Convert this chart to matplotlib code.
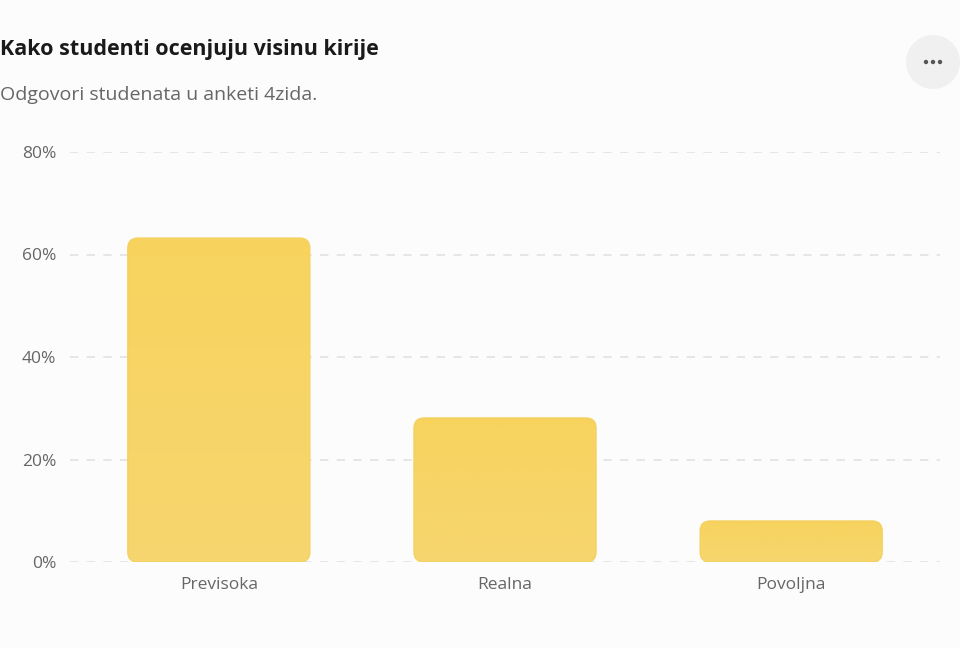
import numpy as np
import matplotlib.pyplot as plt
from matplotlib.patches import FancyBboxPatch, Circle
from matplotlib.colors import LinearSegmentedColormap

# Podaci
kategorije = ["Previsoka", "Realna", "Povoljna"]
procenti = [63.2, 28.1, 8.0]
y_ticks = [0, 20, 40, 60, 80]

plt.rcParams['font.family'] = ['Open Sans', 'DejaVu Sans']

W, H = 960, 648
fig = plt.figure(figsize=(W / 100, H / 100), dpi=100)
fig.patch.set_facecolor('#fcfcfc')

# Osa u pikselima
left, right, top, bottom = 70, 940, 152, 562
ax = fig.add_axes([left / W, 1 - bottom / H, (right - left) / W, (bottom - top) / H])
ax.set_facecolor('#fcfcfc')

for s in ax.spines.values():
    s.set_visible(False)

ax.set_yticks(y_ticks)
ax.set_yticklabels([f"{t}%" for t in y_ticks])
ax.set_xticks(range(len(kategorije)))
ax.set_xticklabels(kategorije)
ax.tick_params(length=0, labelsize=12.5, labelcolor='#666666')
ax.tick_params(axis='y', pad=10)
ax.tick_params(axis='x', pad=11)
ax.grid(axis='y', color='#e2e2e2', linestyle=(0, (5, 5)), linewidth=1.2)
ax.set_axisbelow(True)

# Zaobljeni stubici sa blagim gradijentom
sirina = 0.636
px_x = (right - left) / 3.04
px_y = (bottom - top) / 80
r = 10
gradijent = np.linspace(0, 1, 100).reshape(-1, 1)
cmap = LinearSegmentedColormap.from_list('zuta', ['#f7d66f', '#f7d35e'])
for i, v in enumerate(procenti):
    x0 = i - sirina / 2
    patch = FancyBboxPatch((x0, 0), sirina, v,
                           boxstyle=f"round,pad=0,rounding_size={r / px_x}",
                           mutation_aspect=px_x / px_y,
                           facecolor='none', edgecolor='#f4d160', linewidth=1.0,
                           zorder=3)
    ax.add_patch(patch)
    im = ax.imshow(gradijent, extent=(x0, x0 + sirina, 0, v), origin='lower',
                   cmap=cmap, aspect='auto', zorder=2)
    im.set_clip_path(patch)

ax.set_xlim(-0.52, 2.52)
ax.set_ylim(0, 80)

# Naslov i podnaslov
fig.text(0 / W, 1 - 49 / H, "Kako studenti ocenjuju visinu kirije", fontsize=15.5,
         fontweight='bold', color='#1a1a1a', va='center', ha='left')
fig.text(0 / W, 1 - 95 / H, "Odgovori studenata u anketi 4zida.", fontsize=14,
         color='#666666', va='center', ha='left')

# Dugme sa tri tacke
fig.patches.append(Circle((9.33, (H - 62) / 100), 0.27, transform=fig.dpi_scale_trans,
                          facecolor='#f0f0f0', edgecolor='none'))
for dx in (-7, 0, 7):
    fig.patches.append(Circle(((933 + dx) / 100, (H - 62) / 100), 0.022,
                              transform=fig.dpi_scale_trans, facecolor='#555555',
                              edgecolor='none'))

fig.savefig('out.png', dpi=100, facecolor=fig.get_facecolor())
